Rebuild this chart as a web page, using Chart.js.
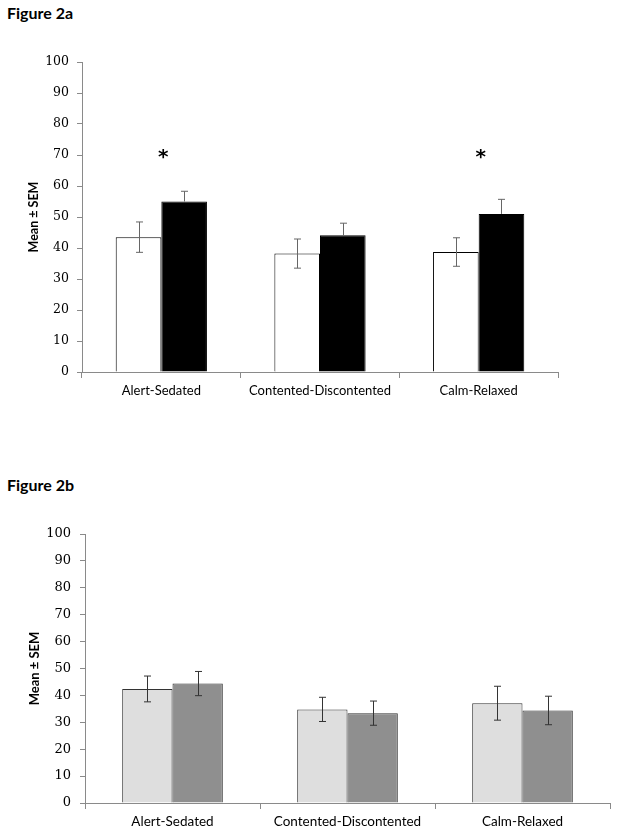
<!DOCTYPE html>
<html>
<head>
<meta charset="utf-8">
<script src="https://cdn.jsdelivr.net/npm/chart.js@4.4.1/dist/chart.umd.min.js"></script>
<style>
  body { margin: 0; background: #fff; }
  .wrap { position: relative; width: 624px; height: 840px; }
  .fig { position: absolute; left: 7px; font: bold 16px Lato, sans-serif; color: #000; }
  canvas { position: absolute; left: 0; }
</style>
</head>
<body>
<div class="wrap">
  <div class="fig" style="top:3px">Figure 2a</div>
  <canvas id="chartA" width="624" height="410" style="top:0"></canvas>
  <div class="fig" style="top:475px">Figure 2b</div>
  <canvas id="chartB" width="624" height="400" style="top:440px"></canvas>
</div>
<script>
const categories = ['Alert-Sedated', 'Contented-Discontented', 'Calm-Relaxed'];

// figure 2a
const aWhite = [43.5, 38.2, 38.7];
const aWhiteSem = [4.9, 4.7, 4.6];
const aBlack = [55.0, 44.1, 51.0];
const aBlackSem = [3.3, 3.9, 4.7];
const aStars = ['*', '', '*'];
const starLevel = 70.5;

// figure 2b
const bLight = [42.4, 34.8, 37.1];
const bLightSem = [4.8, 4.5, 6.3];
const bDark = [44.4, 33.4, 34.4];
const bDarkSem = [4.5, 4.5, 5.3];

// draws the SEM whiskers on top of each bar
const errorBars = {
  id: 'errorBars',
  afterDatasetsDraw(chart, args, opts) {
    const ctx = chart.ctx;
    const y = chart.scales.y;
    ctx.save();
    ctx.strokeStyle = opts.color || '#555';
    ctx.lineWidth = 1;
    chart.data.datasets.forEach((ds, i) => {
      chart.getDatasetMeta(i).data.forEach((bar, j) => {
        const v = ds.data[j], e = ds.sem[j];
        const x = Math.round(bar.x) + 0.5;
        const top = y.getPixelForValue(v + e);
        const bot = ds.plusOnly ? y.getPixelForValue(v) : y.getPixelForValue(v - e);
        ctx.beginPath();
        ctx.moveTo(x, top); ctx.lineTo(x, bot);
        ctx.moveTo(x - 3.5, top); ctx.lineTo(x + 3.5, top);
        if (!ds.plusOnly) { ctx.moveTo(x - 3.5, bot); ctx.lineTo(x + 3.5, bot); }
        ctx.stroke();
      });
    });
    // significance marks
    if (opts.stars) {
      ctx.fillStyle = '#000';
      ctx.font = 'bold 20px "DejaVu Sans"';
      ctx.textAlign = 'center';
      ctx.textBaseline = 'middle';
      opts.stars.forEach((s, j) => {
        if (!s) return;
        ctx.fillText(s, chart.scales.x.getPixelForValue(j) + 2, y.getPixelForValue(opts.starLevel) + 4);
      });
    }
    ctx.restore();
  }
};

function makeChart(el, sets, cfg) {
  return new Chart(el, {
    type: 'bar',
    data: {
      labels: categories,
      datasets: sets.map(s => ({
        label: s.label,
        data: s.data,
        sem: s.sem,
        plusOnly: s.plusOnly,
        backgroundColor: s.fill,
        borderColor: s.border,
        borderWidth: 1,
        categoryPercentage: 0.575,
        barPercentage: 1.0
      }))
    },
    options: {
      responsive: false,
      animation: false,
      layout: { padding: cfg.padding },
      plugins: {
        legend: { display: false },
        tooltip: { enabled: false },
        errorBars: { color: cfg.errColor, stars: cfg.stars, starLevel: starLevel }
      },
      scales: {
        x: {
          afterFit: s => { s.height = 30; },
          border: { color: '#8a8a8a' },
          grid: { drawOnChartArea: false, color: '#8a8a8a', tickLength: 6 },
          ticks: { color: '#000', padding: 5, maxRotation: 0, autoSkip: false,
                   font: { family: 'Lato', size: cfg.catSize } }
        },
        y: {
          min: 0, max: 100,
          afterFit: s => { s.width = cfg.yWidth; },
          border: { color: '#8a8a8a' },
          grid: { drawOnChartArea: false, color: '#8a8a8a', tickLength: 5 },
          ticks: { stepSize: 10, color: '#000', padding: cfg.tickPad,
                   font: { family: 'DejaVu Serif', size: cfg.tickSize } },
          title: { display: true, text: 'Mean ± SEM', color: '#000',
                   padding: { top: cfg.titlePad, bottom: 0 },
                   font: { family: 'Lato', size: cfg.titleSize, weight: 'bold' } }
        }
      }
    },
    plugins: [errorBars]
  });
}

makeChart(document.getElementById('chartA'), [
  { label: 'Condition 1', data: aWhite, sem: aWhiteSem, fill: '#ffffff', border: '#000000' },
  { label: 'Condition 2', data: aBlack, sem: aBlackSem, fill: '#000000', border: '#000000', plusOnly: true }
], {
  padding: { top: 62, right: 66, bottom: 8, left: 0 },
  yWidth: 82, tickPad: 8, tickSize: 12.5, catSize: 13, titleSize: 12.5, titlePad: 26,
  errColor: '#666', stars: aStars
});

makeChart(document.getElementById('chartB'), [
  { label: 'Condition 1', data: bLight, sem: bLightSem, fill: '#dedede', border: '#333333' },
  { label: 'Condition 2', data: bDark, sem: bDarkSem, fill: '#8f8f8f', border: '#333333' }
], {
  padding: { top: 94, right: 14, bottom: 7, left: 0 },
  yWidth: 85, tickPad: 9, tickSize: 13, catSize: 13.5, titleSize: 13, titlePad: 27,
  errColor: '#333', stars: null
});
</script>
</body>
</html>
